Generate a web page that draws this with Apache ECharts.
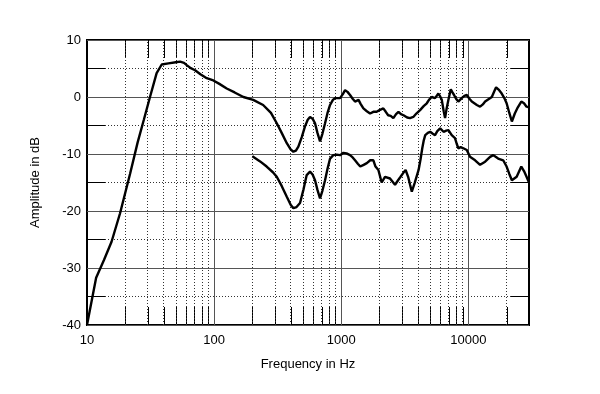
<!DOCTYPE html>
<html><head><meta charset="utf-8">
<script src="https://cdn.jsdelivr.net/npm/echarts@6/dist/echarts.min.js"></script>
<style>html,body{margin:0;padding:0;background:#fff}#c{width:600px;height:394px}</style>
</head><body><div id="c"></div>
<script>
// Upper curve (on-axis response)
var upperFreq = [10,11.8,13.6,15.6,18.2,21.8,25,28,31.3,35.3,38.7,43.7,50,54,58,60.9,65,70.8,78,87.5,98.6,110,125.6,145,170,203,243,280,311,340,373,400,420,440,460,490,518,545,568,595,622,650,681,710,746,780,817,860,894,979,1030,1072,1120,1173,1230,1284,1368,1420,1494,1590,1686,1790,1900,2000,2143,2240,2340,2450,2570,2700,2820,2950,3090,3300,3475,3690,3900,4170,4450,4710,4900,5150,5470,5810,6000,6180,6400,6560,6750,6970,7270,7500,7720,8000,8340,8860,9300,9720,10200,10650,11660,12370,13000,13550,14400,15300,16000,16530,17300,18300,19200,20000,21000,22000,23200,24500,26100,27400,28700,30000];
var upperDb = [-40,-31.7,-28.6,-25.4,-20.4,-13.5,-8,-4,0,4.2,5.7,5.9,6.1,6.2,6,5.6,5.1,4.7,4,3.3,2.9,2.3,1.5,0.8,0,-0.5,-1.4,-2.8,-4.6,-6.3,-8.1,-9.2,-9.6,-9.4,-8.7,-7,-5.2,-4,-3.5,-3.8,-4.6,-6.3,-7.8,-6.5,-4.6,-2.8,-1.4,-0.5,-0.2,-0.2,0.5,1.2,0.9,0.35,-0.3,-0.8,-0.5,-1.2,-2,-2.5,-2.9,-2.6,-2.6,-2.3,-2,-2.6,-3.2,-3.3,-3.7,-3.0,-2.6,-3.0,-3.2,-3.6,-3.7,-3.5,-2.9,-2.3,-1.6,-1.1,-0.5,0,-0.2,0.6,0.1,-0.5,-2.5,-3.7,-2.0,-0.5,1.35,0.8,0.35,-0.3,-0.8,-0.2,0.2,0.35,-0.3,-0.8,-1.4,-1.7,-1.3,-0.8,-0.4,0,1.0,1.7,1.3,0.6,-0.2,-1.1,-2.8,-4.3,-2.9,-1.8,-0.8,-1.1,-1.7,-1.8];
// Lower curve
var lowerFreq = [200,230,259,290,311,340,373,400,420,445,474,505,535,568,595,622,650,681,710,746,780,817,866,920,979,1040,1100,1173,1230,1284,1350,1412,1500,1590,1690,1790,1860,1960,2080,2210,2280,2420,2500,2650,2800,2930,3080,3210,3360,3480,3590,3780,4060,4200,4340,4460,4580,4800,5010,5220,5470,5700,6000,6380,6700,6970,7400,7850,8100,8340,8700,9140,9720,10300,11300,12370,13550,14830,15700,16400,17150,18800,20000,21000,22000,24000,26100,27400,28700,30000];
var lowerDb = [-10.4,-11.3,-12.2,-13.2,-14,-15.6,-17.5,-18.9,-19.5,-19.3,-18.6,-16.2,-13.7,-13.1,-13.6,-14.6,-16.3,-17.8,-16.5,-14.6,-12.6,-10.8,-10.2,-10.1,-10.2,-9.8,-9.9,-10.2,-10.6,-11.1,-11.7,-12.2,-11.9,-11.6,-11.1,-11.1,-12.2,-12.8,-15,-14,-13.7,-14.3,-14.3,-15.4,-14.6,-14,-13.3,-12.8,-14,-15.4,-16.6,-15.1,-12.8,-11,-9,-7.6,-6.7,-6.3,-6.1,-6.4,-6.7,-6.0,-5.5,-6.1,-5.9,-5.8,-6.7,-7.2,-8.2,-9,-8.8,-9,-9.3,-10.5,-11.1,-11.9,-11.35,-10.5,-10.2,-10.5,-10.8,-11.1,-12.2,-13.5,-14.6,-14,-12.2,-13,-14,-15];
// Axis setup
var xMin = 10, xMax = 30000;
var yMin = -40, yMax = 10, yStep = 10;
var minorFreqs = [20,30,40,50,60,70,80,90,200,300,400,500,600,700,800,900,2000,3000,4000,5000,6000,7000,8000,9000,20000];

function pairs(xs, ys){ return xs.map(function(x,i){return [x, ys[i]];}); }

var minorLines = minorFreqs.map(function(f){ return {xAxis: f}; });

var font = 'Arial, "Liberation Sans", sans-serif';
var chart = echarts.init(document.getElementById('c'), null, {renderer:'canvas'});
chart.setOption({
  animation: false,
  backgroundColor: '#fff',
  grid: {left: 87, right: 71, top: 40, bottom: 69, show: true, borderColor: '#000', borderWidth: 2},
  xAxis: {
    type: 'log', logBase: 10, min: xMin, max: xMax,
    name: 'Frequency in Hz', nameLocation: 'middle', nameGap: 33,
    nameTextStyle: {color: '#000', fontSize: 13, fontFamily: font},
    axisLine: {show: false, onZero: false},
    axisTick: {show: false},
    axisLabel: {color: '#000', fontSize: 13, fontFamily: font, margin: 9,
      formatter: function(v){ var l = Math.log10(v); return Math.abs(l - Math.round(l)) < 1e-6 ? String(Math.round(v)) : ''; }},
    splitLine: {show: true, lineStyle: {color: '#555', width: 1}}
  },
  yAxis: [{
    type: 'value', min: yMin, max: yMax, interval: yStep,
    name: 'Amplitude in dB', nameLocation: 'middle', nameGap: 45,
    nameTextStyle: {color: '#000', fontSize: 13, fontFamily: font},
    axisLine: {show: true, lineStyle: {color: '#000', width: 2}},
    axisTick: {show: true, inside: true, length: 18, lineStyle: {color: '#555'}},
    minorTick: {show: true, splitNumber: 2, length: 18, lineStyle: {color: '#000', width: 1}},
    minorSplitLine: {show: true, lineStyle: {color: '#333', width: 1, type: [1, 2]}},
    axisLabel: {color: '#000', fontSize: 13, fontFamily: font, margin: 6},
    splitLine: {show: true, lineStyle: {color: '#555', width: 1}}
  }, {
    type: 'value', min: yMin, max: yMax, interval: yStep, position: 'right',
    axisLine: {show: true, lineStyle: {color: '#000', width: 2}},
    axisTick: {show: true, inside: true, length: 18, lineStyle: {color: '#555'}},
    minorTick: {show: true, splitNumber: 2, length: 18, lineStyle: {color: '#000', width: 1}},
    axisLabel: {show: false},
    splitLine: {show: false}
  }],
  series: [{
    type: 'line', data: pairs(upperFreq, upperDb), showSymbol: false, symbol: 'none',
    lineStyle: {color: '#000', width: 2.4}, z: 5,
    markLine: {silent: true, symbol: 'none', label: {show: false}, animation: false,
      lineStyle: {color: '#333', width: 1, type: [1, 2]},
      data: minorLines}
  }, {
    type: 'line', data: pairs(lowerFreq, lowerDb), showSymbol: false, symbol: 'none',
    lineStyle: {color: '#000', width: 2.4}, z: 5
  }]
});
// Solid inner tick marks at the minor frequencies (top and bottom edges)
var tickLen = 18;
var yTop = chart.convertToPixel({yAxisIndex: 0}, yMax);
var yBot = chart.convertToPixel({yAxisIndex: 0}, yMin);
var tickEls = [];
minorFreqs.forEach(function(f){
  var px = Math.round(chart.convertToPixel({xAxisIndex: 0}, f)) + 0.5;
  tickEls.push({type: 'line', silent: true, z: 4, shape: {x1: px, y1: yTop, x2: px, y2: yTop + tickLen}, style: {stroke: '#000', lineWidth: 1}});
  tickEls.push({type: 'line', silent: true, z: 4, shape: {x1: px, y1: yBot, x2: px, y2: yBot - tickLen}, style: {stroke: '#000', lineWidth: 1}});
});
chart.setOption({graphic: {elements: tickEls}});
</script></body></html>
